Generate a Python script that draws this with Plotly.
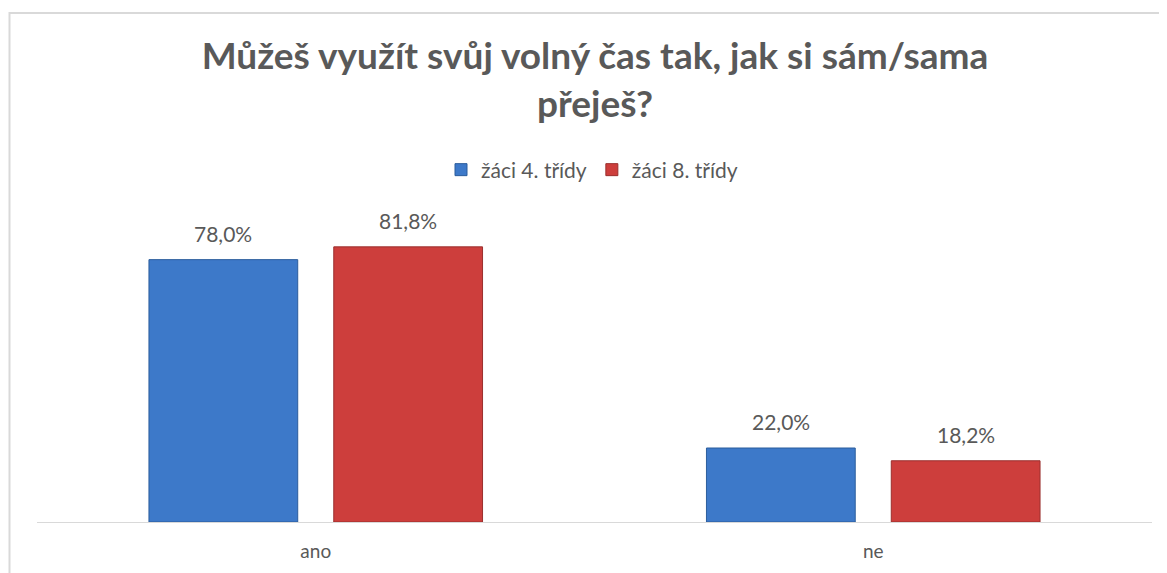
import plotly.graph_objects as go

categories = ["ano", "ne"]
series_names = ["žáci 4. třídy", "žáci 8. třídy"]
values_4 = [78.0, 22.0]
values_8 = [81.8, 18.2]
title_text = "Můžeš využít svůj volný čas tak, jak si sám/sama<br>přeješ?"

# page has an 8px body margin, so the figure is 8px smaller and shifted
OFF = 8
W, H = 1167 - OFF, 573 - OFF
ML, MR, MB = 37 - OFF, 15, 51
YMAX = 88
PX_PER_UNIT = 3.36
plot_h = YMAX * PX_PER_UNIT
MT = H - MB - plot_h
BARGAP = 0.337
BARGROUPGAP = 0.195

FONT = "Lato"
GREY = "#595959"

fills = ["#3d79c9", "#cd3e3c"]
edges = ["#2b5d9c", "#9a2f2d"]

fig = go.Figure()
for name, vals, fc, ec in zip(series_names, [values_4, values_8], fills, edges):
    fig.add_trace(go.Bar(
        x=categories, y=vals, name=name,
        marker=dict(color=fc, line=dict(color=ec, width=1)),
    ))

plot_w = W - ML - MR
dx = plot_w / len(categories)
slot = (1 - BARGAP) * dx / 2
annotations = []
for i, vals in enumerate([values_4, values_8]):
    for c, v in zip(categories, vals):
        annotations.append(dict(
            x=c, y=v, xref="x", yref="y", text=f"{v:.1f}%".replace(".", ","),
            showarrow=False, xshift=(i - 0.5) * slot, yshift=12, yanchor="bottom",
            font=dict(family=FONT, size=21, color=GREY),
        ))

def px_to_paper_x(px):
    return (px - OFF - ML) / plot_w

def px_to_paper_y(py):
    return (H - MB - (py - OFF)) / plot_h

fig.update_layout(
    width=W, height=H,
    margin=dict(l=ML, r=MR, t=MT, b=MB, autoexpand=False),
    paper_bgcolor="white", plot_bgcolor="white",
    barmode="group", bargap=BARGAP, bargroupgap=BARGROUPGAP,
    title=dict(text=title_text, x=(595 - OFF) / W, xanchor="center", xref="container",
               y=1 - (69 - OFF) / H, yanchor="middle", yref="container",
               font=dict(family=FONT, size=37, color=GREY, weight="bold")),
    legend=dict(orientation="h", x=(592 - OFF) / W, xanchor="center", xref="container",
                y=1 - (170 - OFF) / H, yanchor="middle", yref="container",
                font=dict(family=FONT, size=21, color=GREY),
                itemwidth=30, tracegroupgap=0),
    xaxis=dict(showline=True, linecolor="#d9d9d9", linewidth=1, ticks="outside",
               ticklen=12, tickcolor="rgba(0,0,0,0)", showgrid=False,
               automargin=False,
               tickfont=dict(family=FONT, size=19, color=GREY)),
    yaxis=dict(range=[0, YMAX], visible=False, showgrid=False, automargin=False),
    annotations=annotations,
    shapes=[dict(type="rect", xref="paper", yref="paper",
                 x0=px_to_paper_x(9.5), x1=px_to_paper_x(1180),
                 y0=px_to_paper_y(600), y1=px_to_paper_y(13.5),
                 line=dict(color="#d9d9d9", width=2), fillcolor="rgba(0,0,0,0)",
                 layer="below")],
    showlegend=True,
)

fig.write_html("out.html")
